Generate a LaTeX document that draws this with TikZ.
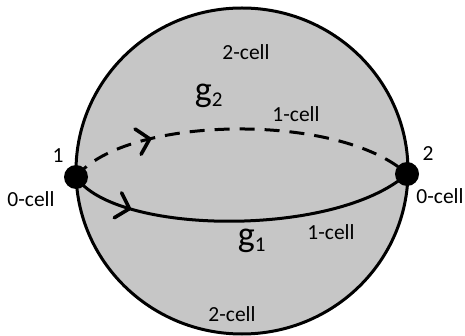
\documentclass[tikz,border=0pt]{standalone}
\usepackage{fontspec}
\setmainfont{Carlito}
\usetikzlibrary{decorations.markings}
\definecolor{spheregray}{RGB}{198,198,198}
\begin{document}
\begin{tikzpicture}[x=1pt,y=-1pt,
  lbl/.style={inner sep=0pt,font=\fontsize{21.5}{24}\selectfont},
  glbl/.style={inner sep=0pt,font=\fontsize{36}{38}\selectfont},
  vertex/.style={circle,fill=black,inner sep=0pt,minimum size=24pt},
  edge/.style={line width=3pt},
  chev/.style={decoration={markings,mark=at position #1 with {\draw[solid,line width=3.6pt,line cap=round,line join=round] (-12pt,13pt) -- (0pt,0pt) -- (-12pt,-13pt);}},postaction={decorate}}
]
\useasboundingbox (0,0) rectangle (465,336);
\fill[spheregray] (242,171) ellipse [x radius=166, y radius=163];
\draw[line width=3pt] (242,171) ellipse [x radius=166, y radius=163];
\node[vertex] (v1) at (76,177) {};
\node[vertex] (v2) at (407,174) {};
\draw[edge,dash pattern=on 15pt off 10pt,chev=0.24] (v1.center) .. controls (125,115) and (340,112) .. (v2.center);
\draw[edge,chev=0.18] (v1.center) .. controls (115,235) and (335,238) .. (v2.center);
\node[lbl] (n1) at (58,156) {1};
\node[lbl] (n2) at (428,154) {2};
\node[lbl] (c0a) at (31,199) {0-cell};
\node[lbl] (c0b) at (440,196) {0-cell};
\node[lbl] (c2a) at (246,52) {2-cell};
\node[lbl] (c2b) at (232,314) {2-cell};
\node[lbl] (c1a) at (296,114) {1-cell};
\node[lbl] (c1b) at (331,232) {1-cell};
\node[glbl] (g2) at (209,96) {g\textsubscript{\fontsize{21}{24}\selectfont 2}};
\node[glbl] (g1) at (252,241) {g\textsubscript{\fontsize{21}{24}\selectfont 1}};
\end{tikzpicture}
\end{document}
